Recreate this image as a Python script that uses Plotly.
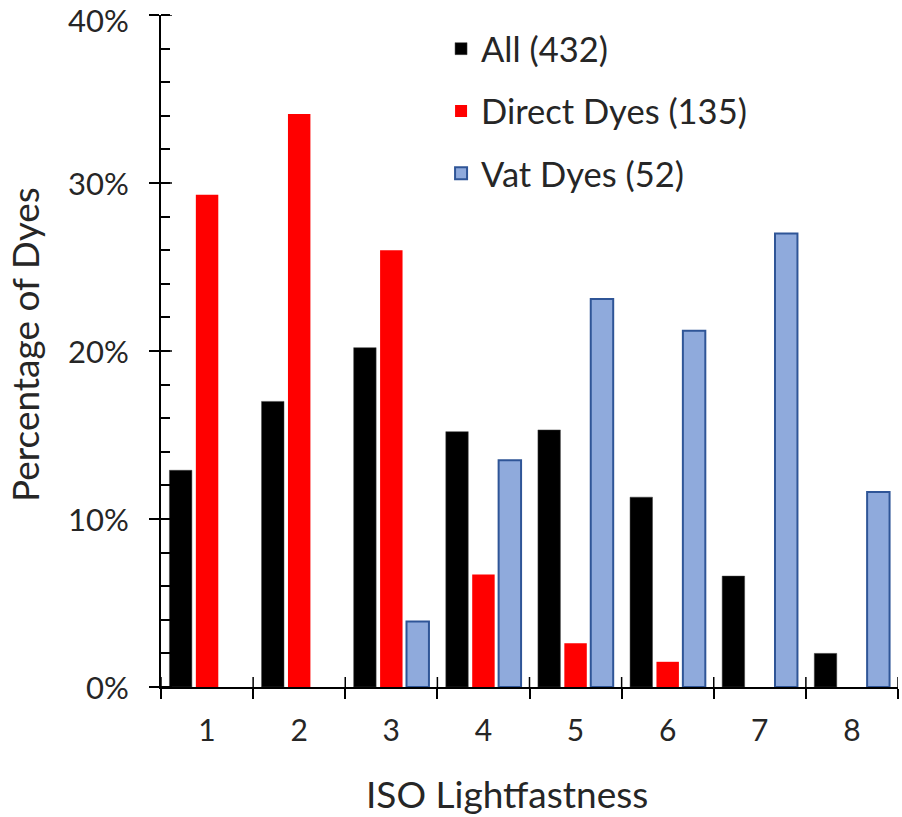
import plotly.graph_objects as go

categories = ["1", "2", "3", "4", "5", "6", "7", "8"]
all_dyes = [12.9, 17.0, 20.2, 15.2, 15.3, 11.3, 6.6, 2.0]
direct_dyes = [29.3, 34.1, 26.0, 6.7, 2.6, 1.5, None, None]
vat_dyes = [None, None, 3.9, 13.5, 23.1, 21.2, 27.0, 11.6]
y_ticks = [0, 10, 20, 30, 40]
y_tick_labels = ["0%", "10%", "20%", "30%", "40%"]
series_names = ["All (432)", "Direct Dyes (135)", "Vat Dyes (52)"]
x_title = "ISO Lightfastness"
y_title = "Percentage of Dyes"

FONT = "Lato"
TXT = "#262626"

fig = go.Figure()
fig.add_trace(go.Bar(x=categories, y=all_dyes, name=series_names[0], legendgroup="a",
                     marker=dict(color="#000000", line=dict(color="#404040", width=0.5))))
fig.add_trace(go.Bar(x=categories, y=direct_dyes, name=series_names[1], legendgroup="b",
                     marker=dict(color="#FF0000", line=dict(color="#FF0000", width=0))))
fig.add_trace(go.Bar(x=categories, y=vat_dyes, name=series_names[2], legendgroup="c",
                     marker=dict(color="#8FAADC", line=dict(color="#2F5597", width=2))))

# inside half of the crossing ticks
shapes = []
for i in range(len(categories) + 1):
    shapes.append(dict(type="line", xref="x", yref="y", x0=i - 0.5, x1=i - 0.5,
                       ysizemode="pixel", yanchor=0, y0=0, y1=10,
                       line=dict(color="black", width=1.5)))
for v in y_ticks:
    shapes.append(dict(type="line", xref="x", yref="y", y0=v, y1=v,
                       xsizemode="pixel", xanchor=-0.5, x0=0, x1=11,
                       line=dict(color="black", width=1.5)))

annotations = [dict(text=x_title, xref="paper", yref="paper", x=0.4695, y=-0.158,
                    xanchor="center", yanchor="middle", showarrow=False,
                    font=dict(size=37, color=TXT, family=FONT)),
               dict(text=y_title, xref="paper", yref="paper", x=-0.186, y=0.5104,
                    xanchor="center", yanchor="middle", showarrow=False, textangle=-90,
                    borderpad=0, font=dict(size=37, color=TXT, family=FONT))]
# y tick labels placed further from the axis than plotly's default position
top = max(y_ticks)
for v, lab in zip(y_ticks, y_tick_labels):
    annotations.append(dict(text=lab, xref="paper", yref="y", x=0, y=v,
                            xanchor="right", yanchor="middle", xshift=-31,
                            yshift=-5 if v == top else 0, showarrow=False, borderpad=0,
                            font=dict(size=31, color=TXT, family=FONT)))

fig.update_layout(
    width=902, height=817,
    margin=dict(l=161, r=4, t=15, b=130),
    paper_bgcolor="white", plot_bgcolor="white",
    barmode="group", bargap=0.14, bargroupgap=0.15,
    font=dict(family=FONT, color=TXT),
    shapes=shapes,
    annotations=annotations,
    showlegend=True,
    legend=dict(x=0.38, y=0.993, xanchor="left", yanchor="top",
                font=dict(size=34.5, color=TXT, family=FONT),
                traceorder="grouped", tracegroupgap=14.5,
                bgcolor="rgba(0,0,0,0)"),
    xaxis=dict(type="category", range=[-0.5, 7.5], tickson="boundaries",
               ticks="outside", ticklen=10, tickwidth=1.5, tickcolor="black",
               showline=True, linecolor="black", linewidth=1.5,
               showgrid=False, zeroline=False, automargin=False,
               tickfont=dict(size=30, color=TXT, family=FONT),
               ticklabelstandoff=16),
    yaxis=dict(range=[0, 40], tickmode="array", tickvals=y_ticks, showticklabels=False,
               ticks="outside", ticklen=10, tickwidth=1.5, tickcolor="black",
               minor=dict(ticks="inside", dtick=2, ticklen=9, tickwidth=1.5, tickcolor="black",
                          showgrid=False),
               showline=True, linecolor="black", linewidth=1.5,
               showgrid=False, zeroline=False, automargin=False),
)

fig.write_html("out.html", config={"displayModeBar": False},
               post_script="document.body.style.margin='0';")
